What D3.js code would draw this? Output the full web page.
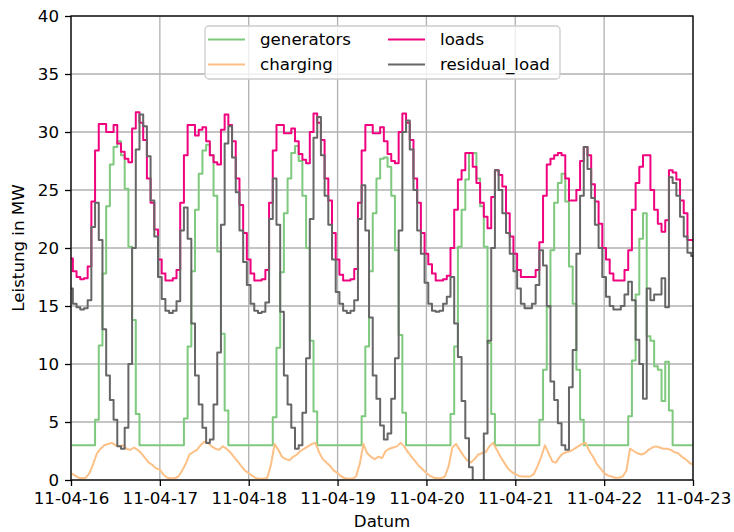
<!DOCTYPE html>
<html lang="en">
<head>
    <meta charset="UTF-8">
    <title>Leistung in MW</title>
    <script src="https://d3js.org/d3.v7.min.js"></script>
    <style>
        body { margin: 0; background: #fff; }
        svg text { font-family: "DejaVu Sans", sans-serif; font-size: 16.67px; fill: #000; }
    </style>
</head>
<body>
<div id="chart"></div>
<script>
    // hourly values from 11-04-16 00:00 to 11-04-23 00:00 (one row per day, last value = end point)
    const startDate = new Date(2011, 3, 16);

    const generators = [
        3.0, 3.0, 3.0, 3.0, 3.0, 3.0, 3.0, 5.2, 11.6, 17.8, 23.6, 27.2, 28.7, 29.2, 28.0, 25.1, 20.1, 13.8, 5.7, 3.0, 3.0, 3.0, 3.0, 3.0,
        3.0, 3.0, 3.0, 3.0, 3.0, 3.0, 3.0, 5.3, 11.5, 18.0, 23.3, 26.4, 28.4, 28.9, 28.0, 24.5, 19.7, 12.6, 6.0, 3.0, 3.0, 3.0, 3.0, 3.0,
        3.0, 3.0, 3.0, 3.0, 3.0, 3.0, 3.0, 5.4, 11.4, 17.9, 23.0, 26.0, 28.2, 28.8, 27.5, 24.5, 20.0, 12.0, 5.9, 3.0, 3.0, 3.0, 3.0, 3.0,
        3.0, 3.0, 3.0, 3.0, 3.0, 3.0, 3.0, 5.5, 11.5, 18.0, 23.0, 26.0, 27.7, 27.8, 27.0, 24.5, 19.8, 12.5, 5.8, 3.0, 3.0, 3.0, 3.0, 3.0,
        3.0, 3.0, 3.0, 3.0, 3.0, 3.0, 3.0, 5.7, 11.5, 20.1, 23.3, 25.9, 28.2, 28.2, 26.0, 23.6, 20.1, 11.8, 5.7, 3.0, 3.0, 3.0, 3.0, 3.0,
        3.0, 3.0, 3.0, 3.0, 3.0, 3.0, 3.0, 5.2, 9.5, 14.9, 19.8, 23.9, 25.6, 26.4, 24.0, 18.4, 15.2, 9.5, 5.2, 3.0, 3.0, 3.0, 3.0, 3.0,
        3.0, 3.0, 3.0, 3.0, 3.0, 3.0, 3.0, 5.5, 10.3, 16.0, 20.8, 23.0, 12.4, 12.0, 9.8, 9.5, 6.8, 10.2, 6.0, 3.0, 3.0, 3.0, 3.0, 3.0,
        3.0
    ];

    const charging = [
        0.6, 0.4, 0.2, 0.15, 0.2, 0.6, 1.4, 2.3, 2.7, 3.0, 3.1, 3.2, 3.0, 2.9, 3.0, 2.7, 2.6, 2.8, 2.6, 2.3, 1.9, 1.5, 1.3, 1.0,
        0.9, 0.45, 0.2, 0.15, 0.15, 0.3, 0.8, 1.4, 2.2, 2.4, 2.6, 3.0, 3.3, 3.2, 2.9, 2.7, 2.6, 2.9, 2.7, 2.4, 2.0, 1.6, 1.2, 0.8,
        0.6, 0.35, 0.15, 0.1, 0.1, 0.2, 1.3, 3.1, 2.6, 2.0, 1.8, 1.7, 2.0, 2.2, 2.5, 2.7, 2.9, 3.1, 3.2, 2.4, 1.8, 1.5, 1.2, 0.8,
        0.6, 0.3, 0.15, 0.1, 0.1, 0.3, 1.4, 3.1, 2.3, 2.0, 1.8, 2.0, 1.9, 2.5, 2.7, 2.8, 2.9, 3.2, 2.9, 2.4, 2.0, 1.6, 1.2, 0.9,
        0.6, 0.35, 0.2, 0.15, 0.15, 0.3, 1.2, 2.8, 3.1, 2.6, 2.1, 1.7, 1.5, 1.8, 2.2, 2.3, 2.4, 2.9, 3.2, 2.6, 2.0, 1.5, 1.0, 0.7,
        0.5, 0.35, 0.3, 0.3, 0.3, 0.5, 1.2, 2.0, 3.0, 2.3, 1.6, 1.5, 2.0, 2.3, 2.4, 2.5, 2.7, 2.9, 3.1, 3.2, 2.5, 2.0, 1.4, 1.0,
        0.6, 0.4, 0.3, 0.2, 0.2, 0.3, 0.8, 2.7, 2.5, 2.3, 2.2, 2.3, 2.6, 2.8, 2.9, 2.8, 2.7, 2.7, 2.6, 2.4, 2.3, 2.0, 1.8, 1.5,
        1.3
    ];

    const loads = [
        19.1, 18.0, 17.5, 17.3, 17.4, 18.4, 24.0, 28.4, 30.7, 30.7, 30.0, 30.0, 30.6, 29.0, 28.3, 27.7, 27.4, 30.3, 31.7, 30.8, 29.3, 26.0, 23.9, 21.6,
        19.0, 17.8, 17.2, 17.2, 17.4, 18.1, 23.9, 28.0, 30.6, 30.6, 29.7, 30.2, 30.4, 29.2, 28.0, 27.4, 27.2, 30.2, 31.5, 30.6, 29.2, 26.0, 23.7, 21.3,
        19.0, 17.8, 17.2, 17.2, 17.3, 18.1, 23.9, 28.4, 30.6, 30.6, 29.9, 29.9, 30.3, 29.2, 28.1, 27.6, 27.3, 30.0, 31.6, 30.8, 29.3, 26.0, 24.1, 21.3,
        19.0, 17.7, 17.2, 17.2, 17.3, 18.2, 23.9, 28.4, 30.6, 30.6, 29.9, 29.9, 30.4, 29.2, 28.1, 27.5, 27.3, 30.0, 31.6, 30.8, 29.3, 26.0, 23.9, 21.3,
        19.5, 18.6, 17.8, 17.2, 17.2, 17.3, 17.6, 20.0, 23.3, 25.9, 26.7, 28.2, 28.2, 27.0, 25.6, 23.9, 22.7, 21.7, 24.4, 26.7, 26.3, 25.3, 23.0, 21.0,
        19.5, 18.1, 17.5, 17.5, 17.5, 17.5, 18.1, 20.5, 24.5, 27.2, 27.7, 28.0, 28.2, 28.0, 26.0, 24.1, 24.1, 25.0, 27.5, 28.7, 28.0, 25.5, 24.0, 22.1,
        20.0, 19.0, 17.8, 17.2, 17.2, 17.2, 18.1, 19.8, 23.3, 25.6, 27.0, 28.0, 28.0, 25.0, 23.3, 22.1, 21.4, 22.4, 26.7, 26.5, 25.9, 24.1, 23.0, 20.7,
        20.7
    ];

    const residualLoad = [
        16.5, 15.2, 14.9, 14.7, 14.8, 15.5, 21.8, 23.9, 20.7, 13.0, 9.0, 6.9, 5.2, 2.9, 2.7, 4.5, 10.0, 20.0, 28.5, 31.5, 30.5, 27.9, 24.1, 21.0,
        17.5, 15.6, 14.6, 14.4, 14.6, 15.4, 21.5, 23.5, 20.8, 13.5, 9.0, 6.5, 4.5, 3.2, 3.5, 6.5, 11.0, 22.0, 29.0, 30.5, 27.8, 24.8, 21.5, 18.8,
        16.8, 15.2, 14.6, 14.4, 14.5, 15.3, 22.5, 26.0, 22.0, 14.5, 9.0, 6.5, 4.5, 2.7, 3.0, 5.8, 10.5, 22.5, 29.5, 31.3, 28.0, 24.5, 22.0, 19.0,
        16.2, 15.2, 14.6, 14.4, 14.6, 15.5, 22.5, 25.4, 21.5, 14.0, 9.0, 7.0, 4.7, 3.5, 4.0, 7.0, 10.5, 21.5, 30.0, 31.0, 28.5, 25.0, 21.5, 19.5,
        17.0, 15.2, 14.6, 14.5, 14.6, 15.2, 15.8, 17.5, 13.5, 10.6, 6.8, 3.6, 1.1, -1.5, -2.5, -1.0, 4.0, 12.0, 20.0, 26.7, 25.0, 23.0, 21.3, 19.5,
        18.0, 16.5, 15.2, 14.8, 14.8, 15.2, 16.8, 19.8, 18.5, 15.0, 8.5, 6.9, 4.9, 3.0, 2.6, 8.0, 11.2, 19.5, 24.5, 28.7, 26.8, 24.3, 22.0, 20.0,
        17.5, 15.8, 15.0, 14.7, 14.7, 15.0, 16.0, 17.1, 15.5, 12.1, 10.0, 7.0, 16.5, 15.5, 16.0, 16.0, 17.4, 14.9, 26.1, 25.6, 24.5, 22.7, 21.0, 19.6,
        19.3
    ];

    const seriesNames = ["generators", "charging", "loads", "residual_load"];
    const seriesColors = ["#7fc97f", "#fdc086", "#f0027f", "#666666"];
    const seriesValues = [generators, charging, loads, residualLoad];
    const seriesCurves = [d3.curveStep, d3.curveLinear, d3.curveStep, d3.curveStep];
    const yTicks = [0, 5, 10, 15, 20, 25, 30, 35, 40];

    const width = 734, height = 532;
    const margin = { top: 16, right: 41, bottom: 52, left: 71 };
    const w = width - margin.left - margin.right;
    const h = height - margin.top - margin.bottom;

    const svg = d3.select("#chart").append("svg")
        .attr("width", width)
        .attr("height", height);

    const g = svg.append("g")
        .attr("transform", `translate(${margin.left},${margin.top})`);

    const endDate = d3.timeHour.offset(startDate, loads.length - 1);
    const x = d3.scaleTime().domain([startDate, endDate]).range([0, w]);
    const y = d3.scaleLinear().domain([0, 40]).range([h, 0]);
    const xTicks = d3.timeDay.range(startDate, d3.timeDay.offset(endDate, 1));

    // grid
    g.append("g").selectAll("line").data(xTicks).join("line")
        .attr("x1", d => x(d)).attr("x2", d => x(d))
        .attr("y1", 0).attr("y2", h)
        .attr("stroke", "#b0b0b0").attr("stroke-width", 1.3);
    g.append("g").selectAll("line").data(yTicks).join("line")
        .attr("x1", 0).attr("x2", w)
        .attr("y1", d => y(d)).attr("y2", d => y(d))
        .attr("stroke", "#b0b0b0").attr("stroke-width", 1.3);

    // lines
    g.append("clipPath").attr("id", "plot-clip")
        .append("rect").attr("width", w).attr("height", h);

    seriesValues.forEach((vals, k) => {
        const line = d3.line()
            .x((d, i) => x(d3.timeHour.offset(startDate, i)))
            .y(d => y(d))
            .curve(seriesCurves[k]);
        g.append("path")
            .datum(vals)
            .attr("clip-path", "url(#plot-clip)")
            .attr("fill", "none")
            .attr("stroke", seriesColors[k])
            .attr("stroke-width", 2)
            .attr("stroke-linejoin", "round")
            .attr("d", line);
    });

    // axes
    const xAxis = g.append("g")
        .attr("transform", `translate(0,${h})`)
        .call(d3.axisBottom(x).tickValues(xTicks).tickFormat(d3.timeFormat("%y-%m-%d")).tickSize(6).tickPadding(6));
    const yAxis = g.append("g")
        .call(d3.axisLeft(y).tickValues(yTicks).tickSize(6).tickPadding(6));
    [xAxis, yAxis].forEach(a => {
        a.attr("font-size", null).attr("font-family", null);
        a.select(".domain").remove();
        a.selectAll(".tick line").attr("stroke", "#000").attr("stroke-width", 1.3);
    });

    // spines
    g.append("rect")
        .attr("width", w).attr("height", h)
        .attr("fill", "none").attr("stroke", "#000").attr("stroke-width", 1.3);

    // axis labels
    svg.append("text")
        .attr("x", margin.left + w / 2)
        .attr("y", 527)
        .attr("text-anchor", "middle")
        .text("Datum");
    svg.append("text")
        .attr("transform", `translate(24,${margin.top + h / 2}) rotate(-90)`)
        .attr("text-anchor", "middle")
        .text("Leistung in MW");

    // legend (two columns)
    const legend = svg.append("g");
    legend.append("rect")
        .attr("x", 205).attr("y", 26)
        .attr("width", 355).attr("height", 53)
        .attr("rx", 4)
        .attr("fill", "#fff").attr("fill-opacity", 0.8)
        .attr("stroke", "#cccccc").attr("stroke-width", 1.3);

    const colX = [208, 388];
    const rowY = [39.5, 64.5];
    seriesNames.forEach((name, k) => {
        const cx = colX[Math.floor(k / 2)];
        const cy = rowY[k % 2];
        legend.append("line")
            .attr("x1", cx).attr("x2", cx + 37)
            .attr("y1", cy).attr("y2", cy)
            .attr("stroke", seriesColors[k]).attr("stroke-width", 2);
        legend.append("text")
            .attr("x", cx + 52)
            .attr("y", cy)
            .attr("dy", "0.35em")
            .text(name);
    });
</script>
</body>
</html>
